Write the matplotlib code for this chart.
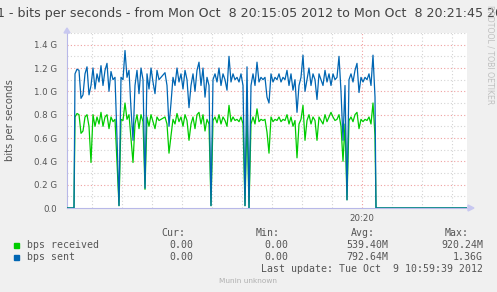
import numpy as np
import matplotlib
matplotlib.use("Agg")
import matplotlib.pyplot as plt

# seconds after 20:15:05, samples every 2 s from t=8 (values in Gbit/s)
t_start = 8
t_step = 2
sent = [1.15, 1.19, 1.18, 0.94, 0.97, 1.15, 1.21, 0.97, 1.05, 1.20,
        1.02, 1.15, 1.08, 1.22, 1.05, 1.18, 1.24, 1.00, 1.17, 1.10,
        1.12, 0.60, 0.02, 1.12, 1.10, 1.35, 1.12, 1.18, 0.85, 0.58,
        1.05, 1.18, 0.98, 1.20, 1.10, 0.17, 1.15, 1.02, 1.20, 1.08,
        0.98, 1.18, 1.10, 1.12, 1.14, 1.16, 1.05, 0.70, 0.90, 1.12,
        1.05, 1.20, 1.08, 1.15, 1.02, 1.18, 1.10, 0.86, 1.05, 1.15,
        1.00, 1.18, 1.25, 1.05, 1.20, 0.95, 1.12, 1.05, 0.02, 1.10,
        1.15, 1.08, 1.20, 1.05, 1.15, 1.10, 1.01, 1.30, 1.08, 1.15,
        1.10, 1.12, 1.08, 1.15, 1.05, 0.02, 1.21, 0.00, 1.05, 1.15,
        1.05, 1.25, 1.08, 1.12, 1.10, 1.12, 0.95, 0.90, 1.15, 1.08,
        1.12, 1.10, 1.15, 1.08, 1.12, 1.10, 1.18, 1.05, 1.15, 1.01,
        1.10, 0.82, 1.05, 1.12, 1.31, 1.00, 1.10, 1.20, 1.05, 1.15,
        1.10, 0.93, 1.15, 1.10, 1.05, 1.18, 1.08, 1.15, 1.05, 1.15,
        1.10, 1.12, 1.30, 1.00, 0.58, 1.05, 0.07, 1.10, 1.15, 1.08,
        1.18, 1.24, 0.99, 1.12, 1.08, 1.12, 1.10, 1.15, 1.05, 1.31,
        0.95]
received = [0.78, 0.81, 0.80, 0.64, 0.66, 0.78, 0.80, 0.70, 0.39, 0.80,
            0.70, 0.78, 0.72, 0.82, 0.70, 0.78, 0.80, 0.68, 0.78, 0.74,
            0.76, 0.40, 0.02, 0.76, 0.75, 0.90, 0.76, 0.80, 0.60, 0.39,
            0.72, 0.80, 0.68, 0.80, 0.74, 0.16, 0.78, 0.70, 0.80, 0.74,
            0.68, 0.78, 0.75, 0.76, 0.77, 0.78, 0.72, 0.47, 0.62, 0.76,
            0.72, 0.81, 0.74, 0.78, 0.70, 0.80, 0.75, 0.58, 0.72, 0.78,
            0.68, 0.80, 0.82, 0.72, 0.80, 0.66, 0.76, 0.72, 0.02, 0.75,
            0.78, 0.73, 0.80, 0.72, 0.78, 0.75, 0.70, 0.88, 0.74, 0.78,
            0.75, 0.76, 0.74, 0.78, 0.72, 0.02, 0.80, 0.00, 0.72, 0.78,
            0.72, 0.85, 0.74, 0.76, 0.75, 0.76, 0.65, 0.47, 0.78, 0.74,
            0.76, 0.75, 0.78, 0.74, 0.76, 0.75, 0.80, 0.72, 0.78, 0.70,
            0.75, 0.43, 0.72, 0.76, 0.88, 0.58, 0.75, 0.80, 0.72, 0.78,
            0.75, 0.58, 0.78, 0.75, 0.72, 0.80, 0.74, 0.78, 0.82, 0.78,
            0.75, 0.76, 0.80, 0.70, 0.40, 0.72, 0.07, 0.75, 0.78, 0.74,
            0.80, 0.82, 0.68, 0.76, 0.74, 0.76, 0.75, 0.78, 0.72, 0.90,
            0.62]

title = "eth1 - bits per seconds - from Mon Oct  8 20:15:05 2012 to Mon Oct  8 20:21:45 2012"
legend_names = ["bps received", "bps sent"]
legend_colors = ["#00CC00", "#0066B3"]
cur_vals = ["0.00", "0.00"]
min_vals = ["0.00", "0.00"]
avg_vals = ["539.40M", "792.64M"]
max_vals = ["920.24M", "1.36G"]
last_update = "Last update: Tue Oct  9 10:59:39 2012"

W, H = 497, 292


def fx(x):
    return x / W


def fy(y):
    return 1 - y / H


n = len(sent)
t = t_start + t_step * np.arange(n)
# flat zero before and after the transfer
tt = np.concatenate([[0, t_start - 1], t, [t[-1] + 1, 400]])
s_full = np.concatenate([[0, 0], sent, [0, 0]])
r_full = np.concatenate([[0, 0], received, [0, 0]])

fig = plt.figure(figsize=(W / 100, H / 100), dpi=100, facecolor="#F0F0F0")
ax = fig.add_axes([fx(67), fy(208), fx(400), 175 / H])
ax.set_facecolor("white")

ax.plot(tt, r_full, color=legend_colors[0], lw=0.9, zorder=3)
ax.plot(tt, s_full, color=legend_colors[1], lw=0.9, zorder=4)

ax.set_xlim(0, 400)
ax.set_ylim(0, 1.5)

# grid
for gx in range(25, 400, 30):
    col = "#F0A0A0" if gx == 295 else "#D4D4D4"
    ax.axvline(gx, color=col, lw=0.8, ls=(0, (1, 2)), zorder=1)
for k in range(1, 16):
    col = "#F0A0A0" if k % 2 == 0 else "#D4D4D4"
    ax.axhline(k * 0.1, color=col, lw=0.8, ls=(0, (1, 2)), zorder=1)

for sp in ["top", "right"]:
    ax.spines[sp].set_visible(False)
for sp in ["left", "bottom"]:
    ax.spines[sp].set_color("#B8B8E8")
    ax.spines[sp].set_linewidth(0.8)

yt = np.arange(0, 1.41, 0.2)
ax.set_yticks(yt)
ax.set_yticklabels(["0.0"] + ["%.1f G" % v for v in yt[1:]])
ax.set_xticks([295])
ax.set_xticklabels(["20:20"])
ax.tick_params(axis="both", length=0, labelsize=6.2, colors="#555555", pad=7)
ax.tick_params(axis="x", pad=4)

# axis arrows
fig.patches.append(plt.Polygon([[fx(64), fy(33)], [fx(70), fy(33)], [fx(67), fy(28)]],
                               closed=True, transform=fig.transFigure,
                               color="#C8C8F0", zorder=5))
fig.patches.append(plt.Polygon([[fx(468), fy(205)], [fx(468), fy(211)], [fx(474), fy(208)]],
                               closed=True, transform=fig.transFigure,
                               color="#C8C8F0", zorder=5))

fig.text(fx(248), fy(13), title, ha="center", va="center", fontsize=9.1, color="#444444")
fig.text(fx(10), fy(120), "bits per seconds", rotation=90, ha="center", va="center",
         fontsize=7.2, color="#555555")
fig.text(fx(490), fy(5), "RRDTOOL / TOBI OETIKER", rotation=270, ha="center", va="top",
         fontsize=5.6, color="#C0C0C0")

mono = "DejaVu Sans Mono"
lc = "#555555"
fs = 7.1
for label, xr in zip(["Cur:", "Min:", "Avg:", "Max:"], [185, 280, 375, 469]):
    fig.text(fx(xr), fy(233), label, ha="right", va="center", family=mono, fontsize=fs, color=lc)
for i in range(2):
    yrow = 245 + 12 * i
    fig.patches.append(plt.Rectangle((fx(14), fy(yrow + 2.5)), fx(5), 5 / H,
                                     transform=fig.transFigure, color=legend_colors[i]))
    fig.text(fx(27), fy(yrow), legend_names[i], ha="left", va="center", family=mono,
             fontsize=fs, color=lc)
    for val, xr in zip([cur_vals[i], min_vals[i], avg_vals[i], max_vals[i]], [193, 288, 388, 483]):
        fig.text(fx(xr), fy(yrow), val, ha="right", va="center", family=mono, fontsize=fs, color=lc)
fig.text(fx(483), fy(269), last_update, ha="right", va="center", family=mono, fontsize=fs, color=lc)
fig.text(fx(248), fy(281), "Munin unknown", ha="center", va="center", fontsize=5.3, color="#B0B0B0")

fig.savefig("out.png", dpi=100, facecolor=fig.get_facecolor())
